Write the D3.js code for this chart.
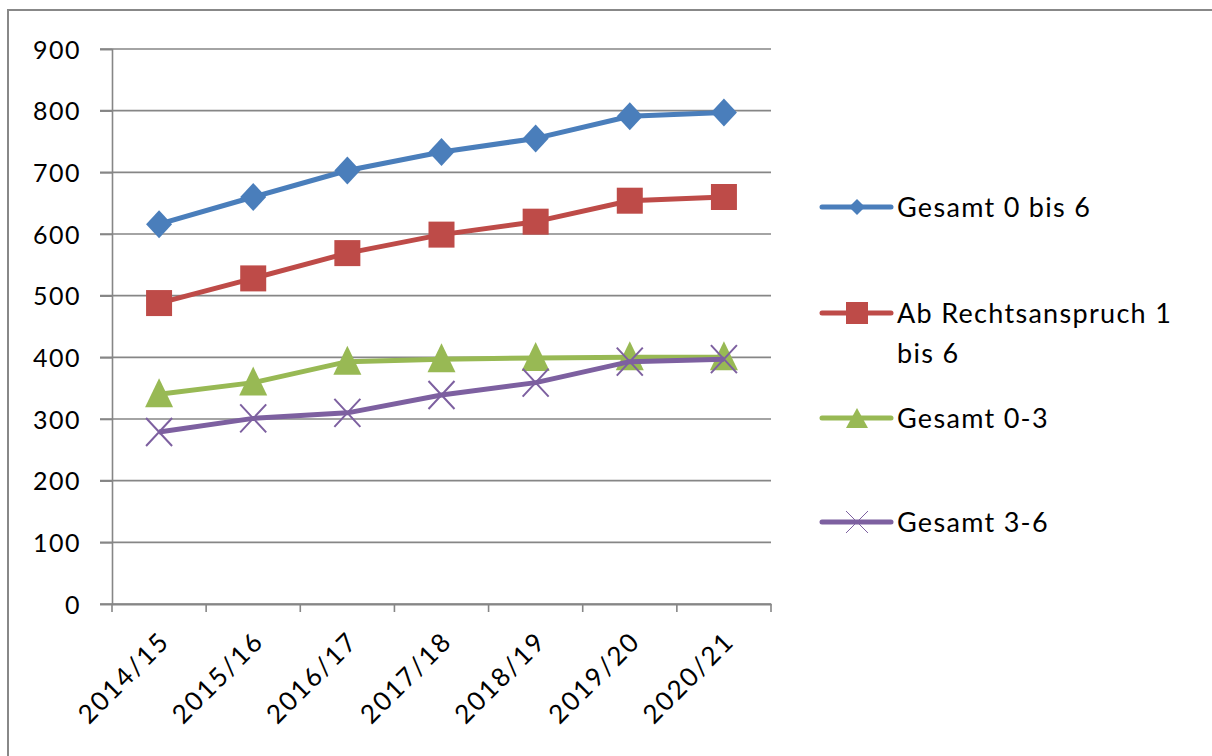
<!DOCTYPE html>
<html><head><meta charset="utf-8">
<script src="https://cdn.jsdelivr.net/npm/d3@7"></script>
<style>body{margin:0;background:#fff}svg{display:block}text{font-family:Lato,"Open Sans",sans-serif;fill:#000}</style>
</head><body><svg id="c" width="1212" height="756"></svg>
<script>
const categories = ["2014/15","2015/16","2016/17","2017/18","2018/19","2019/20","2020/21"];
const yTicks = [0,100,200,300,400,500,600,700,800,900];
const seriesNames = ["Gesamt 0 bis 6","Ab Rechtsanspruch 1 bis 6","Gesamt 0-3","Gesamt 3-6"];
const gesamt06 = [616,660,703,733,755,791,797];
const recht16 = [488,528,569,599,620,654,660];
const gesamt03 = [340,359,393,397,399,400,400];
const gesamt36 = [279,301,310,339,359,393,397];
const seriesValues = [gesamt06, recht16, gesamt03, gesamt36];
const colors = ["#4a7ebb","#be4b48","#98b954","#7d60a0"];
const markers = ["diamond","square","triangle","x"];

const svg = d3.select("#c");
svg.append("rect").attr("x",8).attr("y",10).attr("width",1230).attr("height",770)
  .attr("fill","#fff").attr("stroke","#888").attr("stroke-width",2);

const x = d3.scaleBand().domain(categories).range([112,771]);
const y = d3.scaleLinear().domain([0,900]).range([604,49]);
const grid = "#868686";

// gridlines
svg.append("g").selectAll("line").data(yTicks).join("line")
  .attr("x1",100).attr("x2",771).attr("y1",d=>y(d)).attr("y2",d=>y(d))
  .attr("stroke",grid).attr("stroke-width",1.6);

// y axis
const ya = svg.append("g").attr("transform","translate(112,0)")
  .call(d3.axisLeft(y).tickValues(yTicks).tickSize(12).tickPadding(19));
ya.select(".domain").attr("stroke",grid).attr("stroke-width",1.6);
ya.selectAll(".tick line").attr("stroke",grid).attr("stroke-width",1.6);
ya.selectAll("text").style("font-size","25px").style("font-family","Lato, sans-serif")
  .style("letter-spacing","1.5px").attr("dy","0.36em");

// x axis
const xa = svg.append("g").attr("transform","translate(0,604)")
  .call(d3.axisBottom(x).tickSize(0).tickFormat(""));
xa.select(".domain").attr("stroke",grid).attr("stroke-width",1.8);
const bounds = categories.map(c=>x(c)).concat([x.range()[1]]);
svg.append("g").selectAll("line").data(bounds).join("line")
  .attr("x1",d=>d).attr("x2",d=>d).attr("y1",604).attr("y2",612)
  .attr("stroke",grid).attr("stroke-width",1.6);
svg.append("g").selectAll("text").data(categories).join("text")
  .attr("transform",d=>`translate(${x(d)+x.bandwidth()/2+12},${643}) rotate(-45)`)
  .attr("text-anchor","end").style("font-size","26px").style("letter-spacing","2px").text(d=>d);

function drawMarker(g, type, color){
  if(type==="diamond"){
    g.append("path").attr("d","M0,-14L13,0L0,14L-13,0Z").attr("fill",color);
  } else if(type==="square"){
    g.append("rect").attr("x",-13).attr("y",-13).attr("width",26).attr("height",26).attr("fill",color);
  } else if(type==="triangle"){
    g.append("path").attr("d","M0,-16L14,13L-14,13Z").attr("fill",color);
  } else {
    g.append("path").attr("d","M-13,-14L13,14M-13,14L13,-14").attr("stroke",color).attr("stroke-width",2).attr("fill","none");
  }
}

const line = d3.line().x((d,i)=>x(categories[i])+x.bandwidth()/2).y(d=>y(d));
seriesValues.forEach((vals,si)=>{
  svg.append("path").datum(vals).attr("d",line).attr("fill","none")
    .attr("stroke",colors[si]).attr("stroke-width",5).attr("stroke-linejoin","round");
  vals.forEach((v,i)=>{
    const g = svg.append("g").attr("transform",`translate(${x(categories[i])+x.bandwidth()/2},${y(v)})`);
    drawMarker(g, markers[si], colors[si]);
  });
});

// legend
const legY = [207,313,418,522];
const legLines = [["Gesamt 0 bis 6"],["Ab Rechtsanspruch 1","bis 6"],["Gesamt 0-3"],["Gesamt 3-6"]];
seriesNames.forEach((n,i)=>{
  const g = svg.append("g").attr("transform",`translate(0,${legY[i]})`);
  g.append("line").attr("x1",822).attr("x2",891).attr("y1",0).attr("y2",0)
    .attr("stroke",colors[i]).attr("stroke-width",5).attr("stroke-linecap","round");
  const m = g.append("g").attr("transform","translate(857,0)");
  if(markers[i]==="diamond") m.append("path").attr("d","M0,-8L8,0L0,8L-8,0Z").attr("fill",colors[i]);
  else if(markers[i]==="square") m.append("rect").attr("x",-11).attr("y",-11).attr("width",22).attr("height",22).attr("fill",colors[i]);
  else if(markers[i]==="triangle") m.append("path").attr("d","M0,-10L11,10L-11,10Z").attr("fill",colors[i]);
  else m.append("path").attr("d","M-11,-11L11,11M-11,11L11,-11").attr("stroke",colors[i]).attr("stroke-width",1);
  const t = g.append("text").attr("x",897).attr("y",0).style("font-size","27px").style("letter-spacing","1.3px");
  legLines[i].forEach((s,k)=>t.append("tspan").attr("x",897).attr("dy",k===0?"0.36em":"40").text(s));
});
</script></body></html>
